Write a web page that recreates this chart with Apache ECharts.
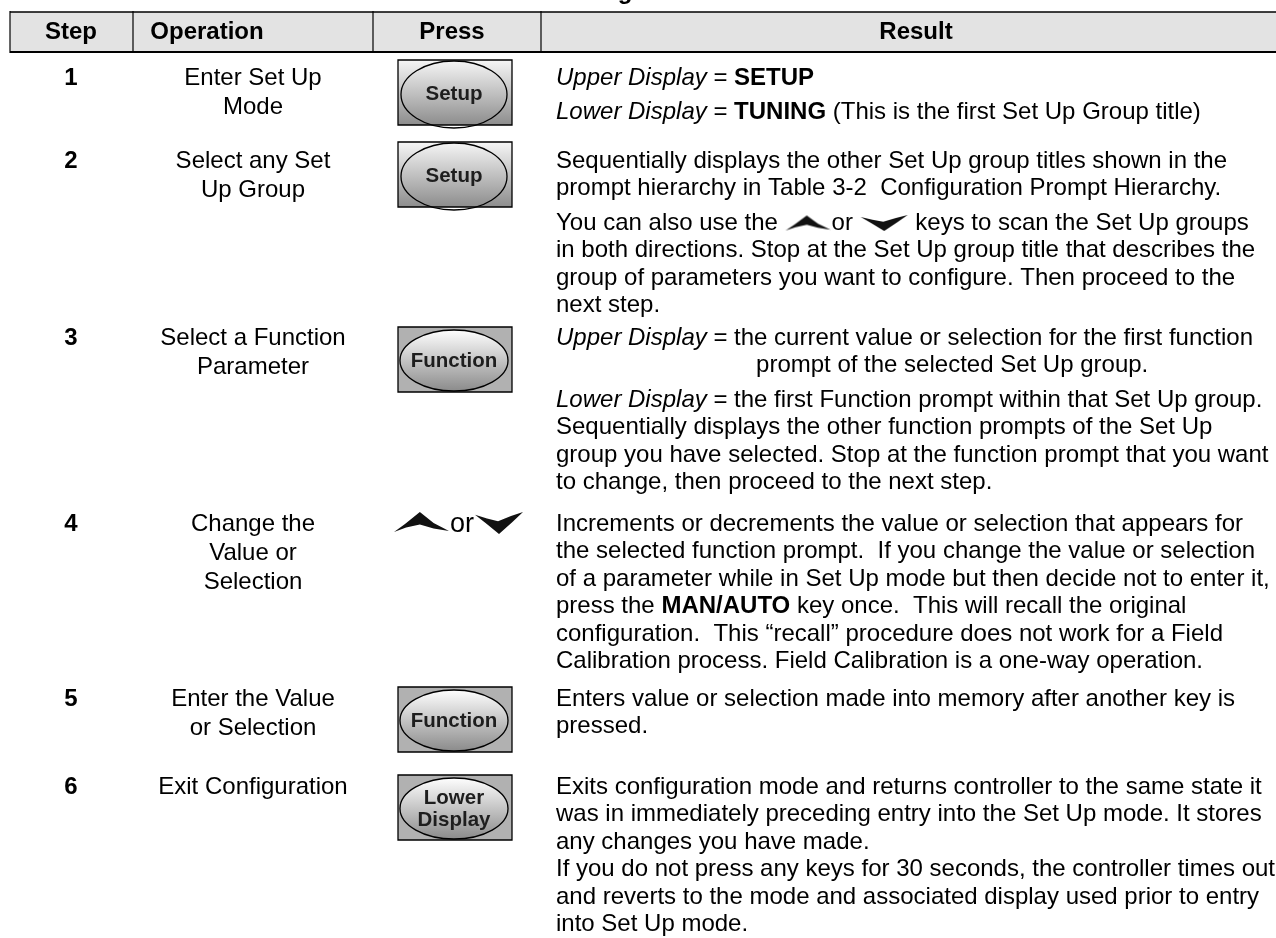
<!DOCTYPE html>
<html><head><meta charset="utf-8">
<script src="https://cdn.jsdelivr.net/npm/echarts@6/dist/echarts.min.js"></script>
<style>html,body{margin:0;padding:0;background:#fff}#main{width:1276px;height:938px}</style>
</head><body><div id="main"></div>
<script>
// ---------- data ----------
const title = 'Table 3-1  Configuration Procedure';
const headers = ['Step', 'Operation', 'Press', 'Result'];
const steps = ['1', '2', '3', '4', '5', '6'];
const operations = [
  ['Enter Set Up', 'Mode'],
  ['Select any Set', 'Up Group'],
  ['Select a Function', 'Parameter'],
  ['Change the', 'Value or', 'Selection'],
  ['Enter the Value', 'or Selection'],
  ['Exit Configuration']
];
const pressKeys = [['Setup'], ['Setup'], ['Function'], ['or'], ['Function'], ['Lower', 'Display']];
const keyKinds = ['setup', 'setup', 'function', 'arrows', 'function', 'function'];
const results = [
  [['{i|Upper Display} = {b|SETUP}'],
   ['{i|Lower Display} = {b|TUNING} (This is the first Set Up Group title)']],
  [['Sequentially displays the other Set Up group titles shown in the',
    'prompt hierarchy in Table 3-2  Configuration Prompt Hierarchy.'],
   ['You can also use the {up| }or {dn| } keys to scan the Set Up groups',
    'in both directions. Stop at the Set Up group title that describes the',
    'group of parameters you want to configure. Then proceed to the',
    'next step.']],
  [['{i|Upper Display} = the current value or selection for the first function',
    '                              prompt of the selected Set Up group.'],
   ['{i|Lower Display} = the first Function prompt within that Set Up group.',
    'Sequentially displays the other function prompts of the Set Up',
    'group you have selected. Stop at the function prompt that you want',
    'to change, then proceed to the next step.']],
  [['Increments or decrements the value or selection that appears for',
    'the selected function prompt.  If you change the value or selection',
    'of a parameter while in Set Up mode but then decide not to enter it,',
    'press the {b|MAN/AUTO} key once.  This will recall the original',
    'configuration.  This \u201crecall\u201d procedure does not work for a Field',
    'Calibration process. Field Calibration is a one-way operation.']],
  [['Enters value or selection made into memory after another key is',
    'pressed.']],
  [['Exits configuration mode and returns controller to the same state it',
    'was in immediately preceding entry into the Set Up mode. It stores',
    'any changes you have made.',
    'If you do not press any keys for 30 seconds, the controller times out',
    'and reverts to the mode and associated display used prior to entry',
    'into Set Up mode.']]
];

// ---------- layout ----------
const FAM = '"Liberation Sans", Arial, Helvetica, sans-serif';
const FS = 24, PITCH = 27.5, PARA = 7, OP_PITCH = 29;
const rowFirst = [78, 161, 338, 524, 699, 787];
const keyTop = [60, 142, 327, 0, 687, 775];
const HEAD_TOP = 12, HEAD_BOT = 52, LEFT = 10, RIGHT = 1291;
const dividers = [10, 133, 373, 541];
const headerX = [71, 207, 452, 916];
const STEP_X = 71, OP_X = 253, KEY_X = 455, RES_X = 556;
const KEY_W = 114, KEY_H = 65;

function arrowPts(kind, w, h) {
  if (kind === 'up') return [[0, h], [w * 0.2, h * 0.6], [w * 0.47, 0], [w * 0.72, h * 0.55], [w, h * 0.95], [w * 0.72, h * 0.82], [w * 0.47, h * 0.62], [w * 0.22, h * 0.78]];
  return [[0, h * 0.12], [w * 0.25, h * 0.3], [w * 0.48, h * 0.42], [w * 0.75, h * 0.18], [w, 0], [w * 0.78, h * 0.45], [w * 0.5, h], [w * 0.22, h * 0.5]];
}
function arrowCanvas(kind, w, h) {
  const c = document.createElement('canvas'); c.width = w; c.height = h + 4;
  const ctx = c.getContext('2d'); const p = arrowPts(kind, w - 2, h);
  ctx.fillStyle = '#111'; ctx.beginPath();
  p.forEach((q, i) => { const x = q[0] + 1, y = q[1] + 2; i ? ctx.lineTo(x, y) : ctx.moveTo(x, y); });
  ctx.closePath(); ctx.fill(); return c;
}
const upImg = arrowCanvas('up', 47, 15), dnImg = arrowCanvas('dn', 49, 16);

const rich = {
  i: { fontStyle: 'italic', fontSize: FS, fontFamily: FAM, fill: '#000' },
  b: { fontWeight: 'bold', fontSize: FS, fontFamily: FAM, fill: '#000' },
  up: { width: 47, height: 19, backgroundColor: { image: upImg } },
  dn: { width: 49, height: 20, backgroundColor: { image: dnImg } }
};

const g = [];
function txt(x, y, text, opt) {
  opt = opt || {};
  g.push({ type: 'text', x: x, y: y, z: 10, style: Object.assign({
    text: text, fontSize: FS, fontFamily: FAM, fill: '#000',
    textAlign: 'left', textVerticalAlign: 'middle', rich: rich
  }, opt) });
}

// title (only its descender shows above the table)
txt(640, 4, title, { fontWeight: 'bold', fontSize: 24, textAlign: 'center', textVerticalAlign: 'bottom' });

// header
g.push({ type: 'rect', shape: { x: LEFT, y: HEAD_TOP, width: RIGHT - LEFT, height: HEAD_BOT - HEAD_TOP }, style: { fill: '#e3e3e3' } });
g.push({ type: 'line', shape: { x1: LEFT, y1: HEAD_TOP, x2: RIGHT, y2: HEAD_TOP }, style: { stroke: '#000', lineWidth: 1.5 } });
g.push({ type: 'line', shape: { x1: LEFT, y1: HEAD_BOT, x2: RIGHT, y2: HEAD_BOT }, style: { stroke: '#000', lineWidth: 2 } });
dividers.forEach(x => g.push({ type: 'line', shape: { x1: x, y1: HEAD_TOP - 1, x2: x, y2: HEAD_BOT + 1 }, style: { stroke: '#000', lineWidth: 1.2 } }));
headers.forEach((h, i) => txt(headerX[i], (HEAD_TOP + HEAD_BOT) / 2, h, { fontWeight: 'bold', textAlign: 'center' }));

function keyButton(cx, top, labels, kind) {
  const x = cx - KEY_W / 2;
  if (kind === 'setup') {
    g.push({ type: 'rect', shape: { x: x, y: top, width: KEY_W, height: KEY_H }, style: {
      fill: new echarts.graphic.LinearGradient(0, 0, 0, 1, [{ offset: 0, color: '#f7f7f7' }, { offset: 1, color: '#8c8c8c' }]), stroke: '#000', lineWidth: 1.3 } });
    g.push({ type: 'ellipse', shape: { cx: cx - 1, cy: top + KEY_H / 2 + 2, rx: KEY_W / 2 - 4, ry: KEY_H / 2 + 1 }, style: { fill: 'none', stroke: '#000', lineWidth: 1.3 } });
  } else {
    g.push({ type: 'rect', shape: { x: x, y: top, width: KEY_W, height: KEY_H }, style: { fill: '#b1b1b1', stroke: '#000', lineWidth: 1.3 } });
    g.push({ type: 'ellipse', shape: { cx: cx - 1, cy: top + KEY_H / 2 + 1, rx: KEY_W / 2 - 3, ry: KEY_H / 2 - 2 }, style: {
      fill: new echarts.graphic.LinearGradient(0, 0, 0, 1, [{ offset: 0, color: '#ffffff' }, { offset: 1, color: '#8a8a8a' }]), stroke: '#000', lineWidth: 1.3 } });
  }
  const n = labels.length;
  labels.forEach((l, i) => txt(cx - 1, top + KEY_H / 2 + 2 + (i - (n - 1) / 2) * 22, l, { fontWeight: 'bold', fontSize: 20.5, fill: '#1e1e1e', textAlign: 'center' }));
}

steps.forEach((s, r) => {
  const y0 = rowFirst[r];
  txt(STEP_X, y0, s, { fontWeight: 'bold', textAlign: 'center' });
  operations[r].forEach((l, i) => txt(OP_X, y0 + i * OP_PITCH, l, { textAlign: 'center' }));
  if (keyKinds[r] === 'arrows') {
    const ax = 394;
    g.push({ type: 'polygon', shape: { points: arrowPts('up', 55, 20).map(p => [p[0] + ax, p[1] + y0 - 12]) }, style: { fill: '#111' } });
    txt(ax + 56, y0 + 1, pressKeys[r][0], { fontSize: 27 });
    g.push({ type: 'polygon', shape: { points: arrowPts('dn', 48, 22).map(p => [p[0] + ax + 81, p[1] + y0 - 12]) }, style: { fill: '#111' } });
  } else {
    keyButton(KEY_X, keyTop[r], pressKeys[r], keyKinds[r]);
  }
  let k = 0;
  results[r].forEach((para, pi) => {
    para.forEach(line => { txt(RES_X, y0 + k * PITCH + pi * PARA, line); k++; });
  });
});

const chart = echarts.init(document.getElementById('main'));
chart.setOption({ animation: false, graphic: { elements: g } });
</script></body></html>
